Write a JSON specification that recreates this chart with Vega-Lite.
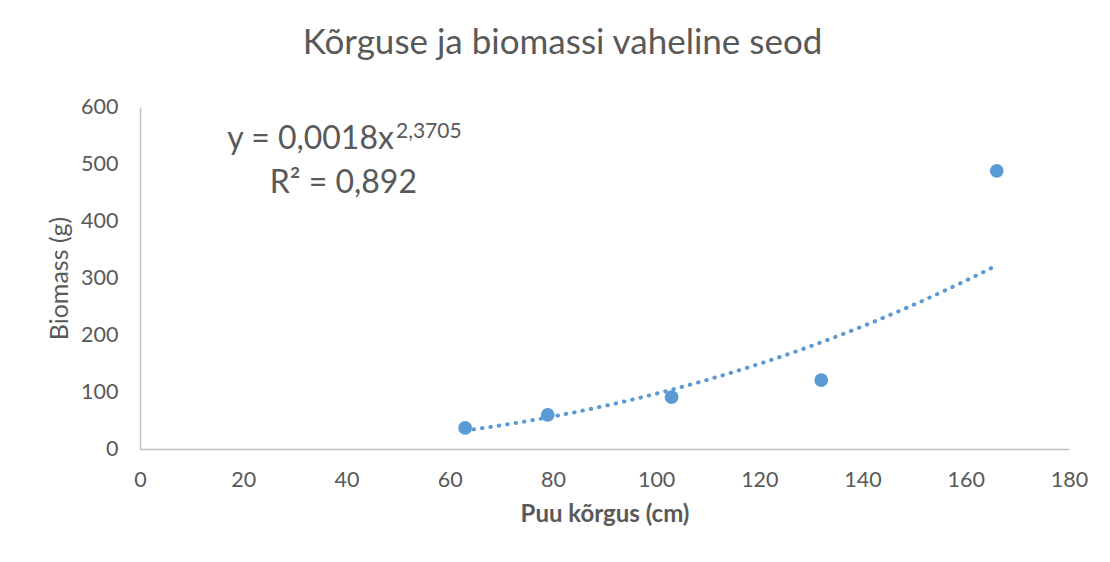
{
  "$schema": "https://vega.github.io/schema/vega-lite/v6.json",
  "autosize": "none",
  "width": 929,
  "height": 342,
  "padding": {"left": 140, "top": 107, "right": 41, "bottom": 113},
  "background": "white",
  "config": {
    "font": "Lato",
    "view": {"stroke": null},
    "axis": {
      "grid": false,
      "ticks": false,
      "tickSize": 0,
      "labelFlush": false,
      "domainColor": "#BFBFBF",
      "domainWidth": 1.5,
      "labelColor": "#595959",
      "labelFont": "Lato",
      "labelFontSize": 21.5,
      "titleColor": "#595959",
      "titleFont": "Lato",
      "titleFontSize": 24
    }
  },
  "title": {
    "text": "Kõrguse ja biomassi vaheline seod",
    "font": "Lato",
    "fontSize": 35,
    "fontWeight": "normal",
    "color": "#595959",
    "anchor": "middle",
    "frame": "group",
    "dx": -42,
    "baseline": "alphabetic",
    "offset": 7
  },
  "datasets": {
    "points": [
      {"height": 63, "biomass": 37},
      {"height": 79, "biomass": 60},
      {"height": 103, "biomass": 91},
      {"height": 132, "biomass": 121},
      {"height": 166, "biomass": 488}
    ],
    "trend": [
      {"height": 63, "biomass": 32.4},
      {"height": 70, "biomass": 41.6},
      {"height": 80, "biomass": 57.1},
      {"height": 90, "biomass": 75.5},
      {"height": 100, "biomass": 97.0},
      {"height": 110, "biomass": 121.6},
      {"height": 120, "biomass": 149.4},
      {"height": 130, "biomass": 180.6},
      {"height": 140, "biomass": 215.3},
      {"height": 150, "biomass": 253.5},
      {"height": 160, "biomass": 295.4},
      {"height": 166, "biomass": 322.2}
    ],
    "labels": [
      {"x": 49.2, "y": 526, "text": "y = 0,0018x", "kind": "main"},
      {"x": 49.6, "y": 545, "text": "2,3705", "kind": "sup"},
      {"x": 39.4, "y": 449, "text": "R² = 0,892", "kind": "r2"}
    ]
  },
  "encoding": {
    "x": {
      "field": "height",
      "type": "quantitative",
      "scale": {"domain": [0, 180], "nice": false},
      "axis": {
        "values": [0, 20, 40, 60, 80, 100, 120, 140, 160, 180],
        "title": "Puu kõrgus (cm)",
        "titleFontWeight": "bold",
        "labelPadding": 20,
        "titlePadding": 12
      }
    },
    "y": {
      "field": "biomass",
      "type": "quantitative",
      "scale": {"domain": [0, 600], "nice": false},
      "axis": {
        "values": [0, 100, 200, 300, 400, 500, 600],
        "title": "Biomass (g)",
        "titleFontWeight": "normal",
        "titleFontSize": 25,
        "labelPadding": 22,
        "titlePadding": 8
      }
    }
  },
  "layer": [
    {
      "data": {"name": "trend"},
      "mark": {
        "type": "line",
        "interpolate": "monotone",
        "color": "#5B9BD5",
        "strokeWidth": 4,
        "strokeCap": "round",
        "strokeDash": [0.5, 8]
      }
    },
    {
      "data": {"name": "points"},
      "mark": {"type": "point", "filled": true, "shape": "circle", "size": 190, "color": "#5B9BD5", "opacity": 1}
    },
    {
      "data": {"name": "labels"},
      "transform": [{"filter": "datum.kind == 'main'"}],
      "mark": {"type": "text", "align": "right", "baseline": "alphabetic", "fontSize": 32, "color": "#595959", "font": "Lato"},
      "encoding": {
        "x": {"field": "x", "type": "quantitative"},
        "y": {"field": "y", "type": "quantitative"},
        "text": {"field": "text"}
      }
    },
    {
      "data": {"name": "labels"},
      "transform": [{"filter": "datum.kind == 'sup'"}],
      "mark": {"type": "text", "align": "left", "baseline": "alphabetic", "fontSize": 21, "color": "#595959", "font": "Lato"},
      "encoding": {
        "x": {"field": "x", "type": "quantitative"},
        "y": {"field": "y", "type": "quantitative"},
        "text": {"field": "text"}
      }
    },
    {
      "data": {"name": "labels"},
      "transform": [{"filter": "datum.kind == 'r2'"}],
      "mark": {"type": "text", "align": "center", "baseline": "alphabetic", "fontSize": 32, "color": "#595959", "font": "Lato"},
      "encoding": {
        "x": {"field": "x", "type": "quantitative"},
        "y": {"field": "y", "type": "quantitative"},
        "text": {"field": "text"}
      }
    }
  ]
}
